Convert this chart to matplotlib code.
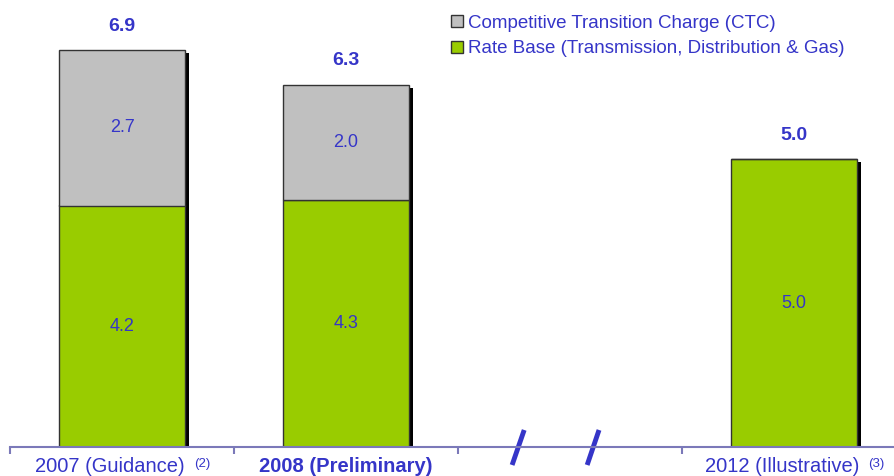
import matplotlib
matplotlib.use('agg')
import matplotlib.pyplot as plt
from matplotlib.lines import Line2D

plt.rcParams['font.family'] = ['Liberation Sans', 'DejaVu Sans']

categories = ['2007 (Guidance)', '2008 (Preliminary)', '', '2012 (Illustrative)']
footnotes = ['(2)', '', '', '(3)']
positions = [0, 1, 3]
rate_base = [4.2, 4.3, 5.0]
ctc = [2.7, 2.0, 0.0]
totals = [6.9, 6.3, 5.0]

BLUE = '#3535c8'
GREEN = '#99cc00'
GREY = '#c0c0c0'
AXIS = '#7b79b9'

fig = plt.figure(figsize=(8.95, 4.76), dpi=100)
ax = fig.add_axes([10 / 895, 29 / 476, 885 / 895, 443 / 476])
ax.set_xlim(-0.5, 3.45)
ax.set_ylim(0, 443 / 57.5)

w = 0.5625
dx = 4 / 224
dy = 3 / 57.5
tops = [r + c for r, c in zip(rate_base, ctc)]
# drop shadow
ax.bar([p + dx for p in positions], [t - dy for t in tops], width=w,
       color='black', zorder=1)
ax.bar(positions, rate_base, width=w, color=GREEN, edgecolor='#333333',
       linewidth=1, zorder=2)
ax.bar(positions, ctc, bottom=rate_base, width=w, color=GREY,
       edgecolor='#333333', linewidth=1, zorder=2)

for p, r, c, t in zip(positions, rate_base, ctc, totals):
    ax.text(p, r / 2, f'{r:.1f}', ha='center', va='center', color=BLUE,
            fontsize=13, zorder=3)
    if c > 0:
        ax.text(p, r + c / 2, f'{c:.1f}', ha='center', va='center',
                color=BLUE, fontsize=13, zorder=3)
    ax.text(p, t + 0.27, f'{t:.1f}', ha='center', va='bottom', color=BLUE,
            fontsize=14, fontweight='bold')

for s in ['top', 'right', 'left']:
    ax.spines[s].set_visible(False)
ax.spines['bottom'].set_color(AXIS)
ax.spines['bottom'].set_linewidth(1.5)
ax.set_yticks([])
ax.set_xticks([-0.5, 0.5, 1.5, 2.5])
ax.set_xticklabels([])
ax.tick_params(axis='x', length=5, width=1.5, color=AXIS, direction='out')

for i, (cat, fn) in enumerate(zip(categories, footnotes)):
    if not cat:
        continue
    shift = -12 if fn else 0
    t = ax.annotate(cat, xy=(i, 0), xytext=(shift, -19),
                    textcoords='offset pixels', ha='center', va='center',
                    color=BLUE, fontsize=14.5,
                    fontweight='bold' if i == 1 else 'normal',
                    annotation_clip=False)
    if fn:
        ax.annotate(fn, xy=(1, 1), xycoords=t, xytext=(9, -1),
                    textcoords='offset pixels', ha='left', va='top',
                    color=BLUE, fontsize=9.5)

# axis break marks
for x0, x1 in [(1.741, 1.795), (2.076, 2.129)]:
    ax.plot([x0, x1], [-0.313, 0.296], color=BLUE, lw=3.5, clip_on=False,
            solid_capstyle='butt')

handles = [Line2D([], [], marker='s', ls='', markersize=9,
                  markerfacecolor=GREY, markeredgecolor='#333333'),
           Line2D([], [], marker='s', ls='', markersize=9,
                  markerfacecolor=GREEN, markeredgecolor='#333333')]
labels = ['Competitive Transition Charge (CTC)',
          'Rate Base (Transmission, Distribution & Gas)']
fig.legend(handles, labels, loc='upper left',
           bbox_to_anchor=(440 / 895, 1 - 7 / 476), frameon=False,
           labelcolor=BLUE, fontsize=13.5, handletextpad=0.1,
           handlelength=1.0, labelspacing=0.45, borderaxespad=0)

fig.savefig('out.png', dpi=100)
